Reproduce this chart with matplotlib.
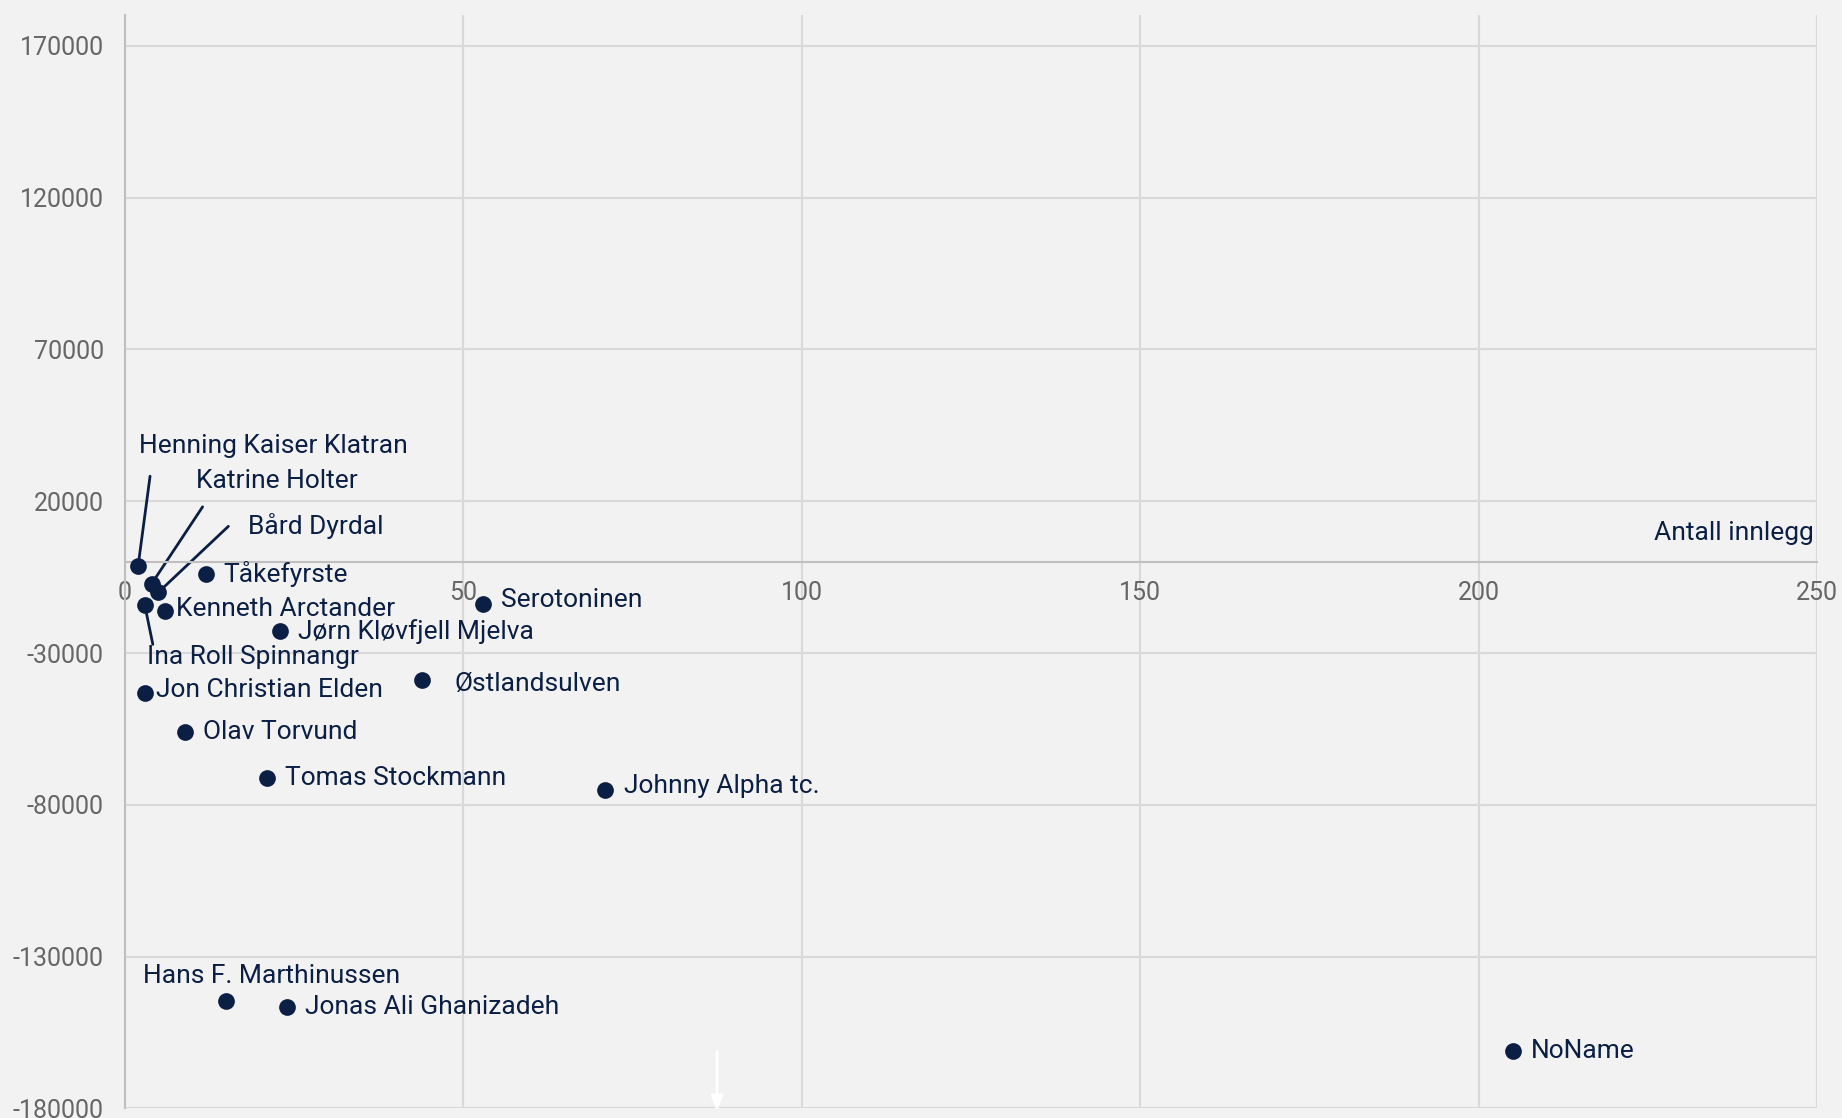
import matplotlib.pyplot as plt

plt.rcParams['font.family'] = ['Roboto', 'DejaVu Sans']
plt.rcParams['axes.unicode_minus'] = False

names = ['Henning Kaiser Klatran', 'Katrine Holter', 'Bård Dyrdal', 'Tåkefyrste',
         'Ina Roll Spinnangr', 'Kenneth Arctander', 'Jørn Kløvfjell Mjelva', 'Serotoninen',
         'Østlandsulven', 'Jon Christian Elden', 'Olav Torvund', 'Tomas Stockmann',
         'Johnny Alpha tc.', 'Hans F. Marthinussen', 'Jonas Ali Ghanizadeh', 'NoName']
innlegg = [2, 4, 5, 12, 3, 6, 23, 53, 44, 3, 9, 21, 71, 15, 24, 205]
verdi = [-1400, -7200, -10000, -4100, -14300, -16300, -22800, -14000,
         -39000, -43200, -56100, -71200, -75100, -144500, -146700, -161000]

x_ticks = [0, 50, 100, 150, 200, 250]
y_ticks = [-180000, -130000, -80000, -30000, 20000, 70000, 120000, 170000]

# label offsets in pixels (dx, dy), plus optional leader line start
label_pos = {
    'Henning Kaiser Klatran': ((1, 120), (12, 90)),
    'Katrine Holter': ((44, 103), (51, 77)),
    'Bård Dyrdal': ((90, 66), (70, 66)),
    'Ina Roll Spinnangr': ((2, -52), (8, -39)),
    'Hans F. Marthinussen': ((-83, 25), None),
    'Østlandsulven': ((32, -4), None),
    'Kenneth Arctander': ((11, 2), None),
    'Jon Christian Elden': ((11, 3), None),
    'Serotoninen': ((18, 4), None),
    'Johnny Alpha tc.': ((19, 4), None),
}

navy = '#0b1f45'
bg = '#f2f2f2'

fig = plt.figure(figsize=(18.42, 11.18), dpi=100, facecolor=bg)
ax = fig.add_axes([0.0676, 0.0085, 0.919, 0.9777])
ax.set_facecolor(bg)

ax.scatter(innlegg, verdi, s=145, color=navy, zorder=3, linewidths=0)

for name, x, y in zip(names, innlegg, verdi):
    off, line = label_pos.get(name, ((18, 0), None))
    ax.annotate(name, (x, y), xytext=off, textcoords='offset pixels',
                ha='left', va='center', fontsize=19, color=navy, zorder=4)
    if line is not None:
        ax.annotate('', (x, y), xytext=line, textcoords='offset pixels',
                    arrowprops=dict(arrowstyle='-', color=navy, lw=2,
                                    shrinkA=0, shrinkB=0), zorder=2)

ax.set_xlim(0, 250)
ax.set_ylim(-180000, 180000)
ax.set_xticks(x_ticks)
ax.set_yticks(y_ticks)
ax.tick_params(length=0, labelsize=18, labelcolor='#666666')
ax.tick_params(axis='y', pad=15)
ax.tick_params(axis='x', pad=14)
ax.grid(True, color='#d9d9d9', lw=1.5, zorder=0)

for s in ['top', 'right']:
    ax.spines[s].set_visible(False)
ax.spines['left'].set_color('#bfbfbf')
ax.spines['left'].set_linewidth(1.5)
ax.spines['bottom'].set_position(('data', 0))
ax.spines['bottom'].set_color('#bfbfbf')
ax.spines['bottom'].set_linewidth(1.5)

ax.text(249.5, 5500, 'Antall innlegg', ha='right', va='bottom', fontsize=19,
        color=navy)

ax.annotate('', xy=(0.35, -0.005), xytext=(0.35, 0.055), xycoords='axes fraction',
            arrowprops=dict(arrowstyle='-|>,head_width=0.35,head_length=0.9',
                            color='white', lw=2), annotation_clip=False)

fig.savefig('out.png', dpi=100, facecolor=bg)
